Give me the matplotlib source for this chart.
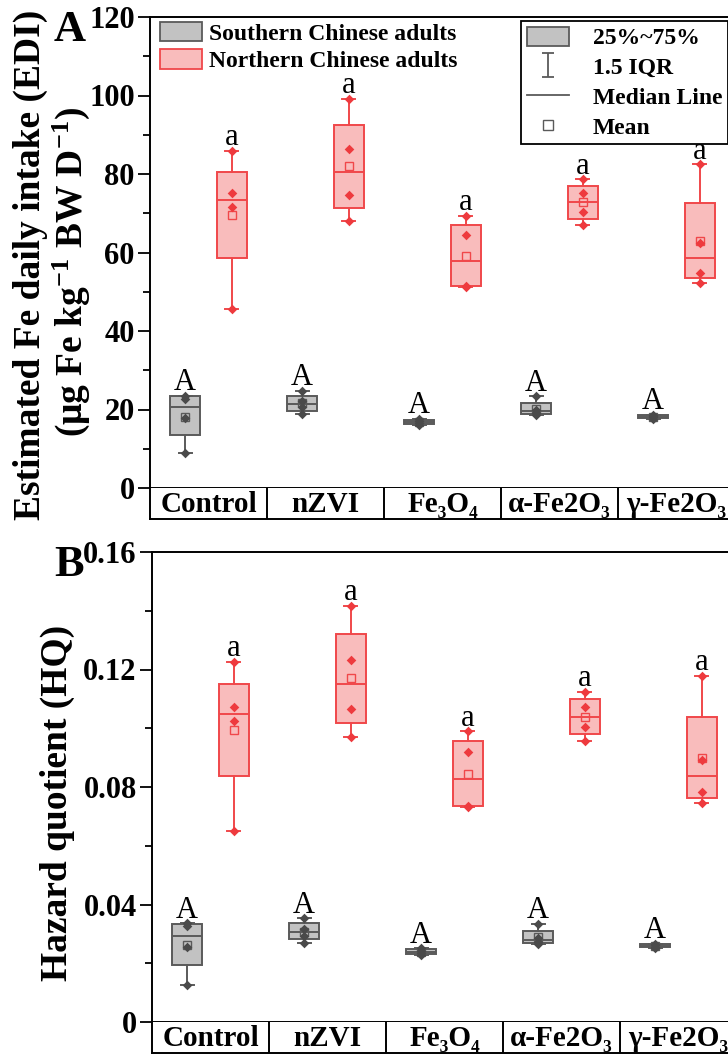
import matplotlib
matplotlib.use("Agg")
import matplotlib.pyplot as plt
from matplotlib.patches import Patch
from matplotlib.lines import Line2D
from matplotlib.path import Path

plt.rcParams['font.family'] = ['Liberation Serif', 'DejaVu Serif']
plt.rcParams['mathtext.fontset'] = 'custom'
plt.rcParams['mathtext.rm'] = 'Liberation Serif'
plt.rcParams['mathtext.bf'] = 'Liberation Serif:bold'
plt.rcParams['mathtext.default'] = 'bf'

# ---------------- data ----------------
categories = ['Control', 'nZVI', 'Fe\u2083O\u2084', '\u03b1-Fe2O\u2083', '\u03b3-Fe2O\u2083']

# Panel A: EDI (ug Fe kg-1 BW d-1)
edi_south_points = [[8.9, 17.8, 22.8, 23.5], [18.8, 20.6, 22.2, 24.7], [16.0, 16.5, 17.0, 17.6],
                    [18.5, 19.0, 20.0, 23.4], [17.6, 18.0, 18.3, 18.7]]
edi_south_q1 = [13.5, 19.6, 16.2, 18.9, 17.8]
edi_south_med = [20.6, 21.5, 16.8, 19.5, 18.2]
edi_south_q3 = [23.4, 23.4, 17.4, 21.6, 18.6]
edi_south_lo = [8.9, 18.8, 16.0, 18.5, 17.6]
edi_south_hi = [23.5, 24.7, 17.6, 23.4, 18.7]
edi_south_mean = [18.2, 21.6, 16.8, 20.2, 18.2]

edi_north_points = [[45.6, 71.6, 75.2, 85.9], [68.0, 74.6, 86.4, 99.1], [51.3, 51.4, 64.4, 69.3],
                    [67.0, 70.3, 75.2, 78.7], [52.2, 54.8, 62.4, 82.5]]
edi_north_q1 = [58.6, 71.3, 51.5, 68.5, 53.5]
edi_north_med = [73.4, 80.5, 57.8, 72.8, 58.6]
edi_north_q3 = [80.5, 92.5, 67.0, 77.0, 72.6]
edi_north_lo = [45.6, 68.0, 51.3, 67.0, 52.2]
edi_north_hi = [85.9, 99.1, 69.3, 78.7, 82.5]
edi_north_mean = [69.6, 82.0, 59.1, 72.8, 63.0]

# Panel B: HQ
hq_south_points = [[0.0127, 0.0254, 0.0326, 0.0336], [0.0269, 0.0294, 0.0317, 0.0353],
                   [0.0229, 0.0236, 0.0243, 0.0251], [0.0264, 0.0271, 0.0286, 0.0334],
                   [0.0251, 0.0257, 0.0261, 0.0267]]
hq_south_q1 = [0.0193, 0.0283, 0.0231, 0.0270, 0.0254]
hq_south_med = [0.0294, 0.0307, 0.0240, 0.0279, 0.0260]
hq_south_q3 = [0.0334, 0.0336, 0.0249, 0.0309, 0.0266]
hq_south_lo = [0.0127, 0.0269, 0.0229, 0.0264, 0.0251]
hq_south_hi = [0.0336, 0.0353, 0.0251, 0.0334, 0.0267]
hq_south_mean = [0.0261, 0.0308, 0.0240, 0.0289, 0.0260]

hq_north_points = [[0.0651, 0.1023, 0.1074, 0.1227], [0.0971, 0.1066, 0.1234, 0.1416],
                   [0.0733, 0.0734, 0.0920, 0.0990], [0.0957, 0.1004, 0.1074, 0.1124],
                   [0.0746, 0.0783, 0.0891, 0.1179]]
hq_north_q1 = [0.0837, 0.1019, 0.0736, 0.0979, 0.0764]
hq_north_med = [0.1049, 0.1150, 0.0827, 0.1040, 0.0837]
hq_north_q3 = [0.1150, 0.1321, 0.0957, 0.1100, 0.1037]
hq_north_lo = [0.0651, 0.0971, 0.0733, 0.0957, 0.0746]
hq_north_hi = [0.1227, 0.1416, 0.0990, 0.1124, 0.1179]
hq_north_mean = [0.0994, 0.1172, 0.0844, 0.1040, 0.0900]

south_letters = ['A', 'A', 'A', 'A', 'A']
north_letters = ['a', 'a', 'a', 'a', 'a']

# ---------------- style ----------------
GREY_FACE = '#c2c2c2'
GREY_EDGE = '#5a5a5a'
GREY_PT = '#4a4a4a'
RED_FACE = '#f9bcbc'
RED_EDGE = '#f0474a'
RED_PT = '#ee3a3e'

W, H = 728, 1055
fig = plt.figure(figsize=(W / 100, H / 100), dpi=100)


def fbox(l, t, r, b):
    return [l / W, 1 - b / H, (r - l) / W, (b - t) / H]


def stats_list(q1, med, q3, lo, hi, mean):
    return [dict(q1=a, med=m, q3=c, whislo=d, whishi=e, mean=f, fliers=[])
            for a, m, c, d, e, f in zip(q1, med, q3, lo, hi, mean)]


def draw_group(ax, stats, points, letters, offset, face, edge, ptc):
    pos = [i + 1 + offset for i in range(len(stats))]
    ax.bxp(stats, positions=pos, widths=0.26, capwidths=0.11, showmeans=True, showfliers=False,
           patch_artist=True, manage_ticks=False,
           boxprops=dict(facecolor=face, edgecolor=edge, linewidth=1.4),
           medianprops=dict(color=edge, linewidth=1.4),
           whiskerprops=dict(color=edge, linewidth=1.4),
           capprops=dict(color=edge, linewidth=1.4),
           meanprops=dict(marker='s', markerfacecolor='none', markeredgecolor=edge,
                          markersize=5.5, markeredgewidth=1.0),
           zorder=2)
    for p, pts in zip(pos, points):
        ax.scatter([p] * len(pts), pts, marker='D', s=24, color=ptc, zorder=3, linewidths=0)
    for p, st, letter in zip(pos, stats, letters):
        ax.annotate(letter, (p, st['whishi']), xytext=(0, 4), textcoords='offset points',
                    ha='center', va='baseline', fontsize=22, color='black')


def setup_axes(ax, ymax, major, minor, fmt):
    ax.set_xlim(0.5, 5.5)
    ax.set_ylim(0, ymax)
    ax.set_xticks([])
    nmaj = int(round(ymax / major))
    nmin = int(round(ymax / minor))
    ax.set_yticks([major * k for k in range(nmaj + 1)])
    ax.set_yticks([minor * k for k in range(nmin + 1)], minor=True)
    ax.set_yticklabels([fmt(major * k) for k in range(nmaj + 1)], fontsize=22, fontweight='bold')
    ax.tick_params(axis='y', which='major', direction='out', length=9, width=1.3, pad=2)
    ax.tick_params(axis='y', which='minor', direction='out', length=5, width=1.3)
    for s in ax.spines.values():
        s.set_linewidth(1.4)
    ax.spines['right'].set_visible(False)


def cat_row(rect):
    axr = fig.add_axes(rect)
    axr.set_xlim(0.5, 5.5)
    axr.set_ylim(0, 1)
    axr.set_xticks([])
    axr.set_yticks([])
    axr.spines['top'].set_visible(False)
    axr.spines['right'].set_visible(False)
    for s in axr.spines.values():
        s.set_linewidth(1.4)
    for b in [1.5, 2.5, 3.5, 4.5]:
        axr.axvline(b, color='black', lw=1.4)
    for i, c in enumerate(categories):
        axr.text(i + 1, 0.47, c, ha='center', va='center', fontsize=21, fontweight='bold')
    return axr


# ---------------- Panel A ----------------
axA = fig.add_axes(fbox(150, 17, 735, 488))
setup_axes(axA, 120, 20, 10, lambda v: f"{int(v)}")
draw_group(axA, stats_list(edi_south_q1, edi_south_med, edi_south_q3, edi_south_lo, edi_south_hi, edi_south_mean),
           edi_south_points, south_letters, -0.2, GREY_FACE, GREY_EDGE, GREY_PT)
draw_group(axA, stats_list(edi_north_q1, edi_north_med, edi_north_q3, edi_north_lo, edi_north_hi, edi_north_mean),
           edi_north_points, north_letters, 0.2, RED_FACE, RED_EDGE, RED_PT)
cat_row(fbox(150, 488, 735, 519))

# ---------------- Panel B ----------------
axB = fig.add_axes(fbox(152, 552, 737, 1022))
setup_axes(axB, 0.16, 0.04, 0.02, lambda v: "0" if v == 0 else f"{v:.2f}")
draw_group(axB, stats_list(hq_south_q1, hq_south_med, hq_south_q3, hq_south_lo, hq_south_hi, hq_south_mean),
           hq_south_points, south_letters, -0.2, GREY_FACE, GREY_EDGE, GREY_PT)
draw_group(axB, stats_list(hq_north_q1, hq_north_med, hq_north_q3, hq_north_lo, hq_north_hi, hq_north_mean),
           hq_north_points, north_letters, 0.2, RED_FACE, RED_EDGE, RED_PT)
cat_row(fbox(152, 1022, 737, 1053))

# ---------------- labels ----------------
fig.text(30 / W, 1 - 265 / H, 'Estimated Fe daily intake (EDI)', rotation=90, ha='center', va='center',
         fontsize=27, fontweight='bold')
fig.text(71 / W, 1 - 272 / H, r'(μg Fe kg$^{-1}$ BW D$^{-1}$)', rotation=90, ha='center', va='center',
         fontsize=27, fontweight='bold')
fig.text(57 / W, 1 - 803 / H, 'Hazard quotient (HQ)', rotation=90, ha='center', va='center',
         fontsize=27, fontweight='bold')
fig.text(54 / W, 1 - 41 / H, 'A', ha='left', va='baseline', fontsize=32, fontweight='bold')
fig.text(54 / W, 1 - 576 / H, 'B', ha='left', va='baseline', fontsize=32, fontweight='bold')

# ---------------- legends ----------------
h1 = [Patch(facecolor=GREY_FACE, edgecolor=GREY_EDGE, linewidth=1.3),
      Patch(facecolor=RED_FACE, edgecolor=RED_EDGE, linewidth=1.3)]
leg1 = fig.legend(h1, ['Southern Chinese adults', 'Northern Chinese adults'],
                  loc='upper left', bbox_to_anchor=(155 / W, 1 - 17 / H), bbox_transform=fig.transFigure,
                  frameon=False, prop=dict(size=17, weight='bold'), handlelength=1.8, handleheight=0.9,
                  handletextpad=0.3, labelspacing=0.2, borderpad=0.2, borderaxespad=0)

ibeam = Path([(-0.5, -1), (0.5, -1), (0, -1), (0, 1), (-0.5, 1), (0.5, 1)],
             [Path.MOVETO, Path.LINETO, Path.MOVETO, Path.LINETO, Path.MOVETO, Path.LINETO])
h2 = [Patch(facecolor=GREY_FACE, edgecolor=GREY_EDGE, linewidth=1.3),
      Line2D([], [], marker=ibeam, linestyle='none', markersize=17, markeredgecolor=GREY_EDGE,
             markerfacecolor='none', markeredgewidth=1.3),
      Line2D([], [], color=GREY_EDGE, linewidth=1.3),
      Line2D([], [], marker='s', linestyle='none', markersize=7, markerfacecolor='white',
             markeredgecolor=GREY_EDGE, markeredgewidth=1.0)]
leg2 = fig.legend(h2, ['25%~75%', '1.5 IQR', 'Median Line', 'Mean'],
                  loc='upper left', bbox_to_anchor=(521 / W, 1 - 21 / H), bbox_transform=fig.transFigure,
                  frameon=True, fancybox=False, edgecolor='black', framealpha=1,
                  prop=dict(size=17, weight='bold'), handlelength=1.8, handleheight=0.85,
                  handletextpad=1.0, labelspacing=0.3, borderpad=0.25, borderaxespad=0)
leg2.get_frame().set_linewidth(1.3)

fig.savefig('out.png', dpi=100)
